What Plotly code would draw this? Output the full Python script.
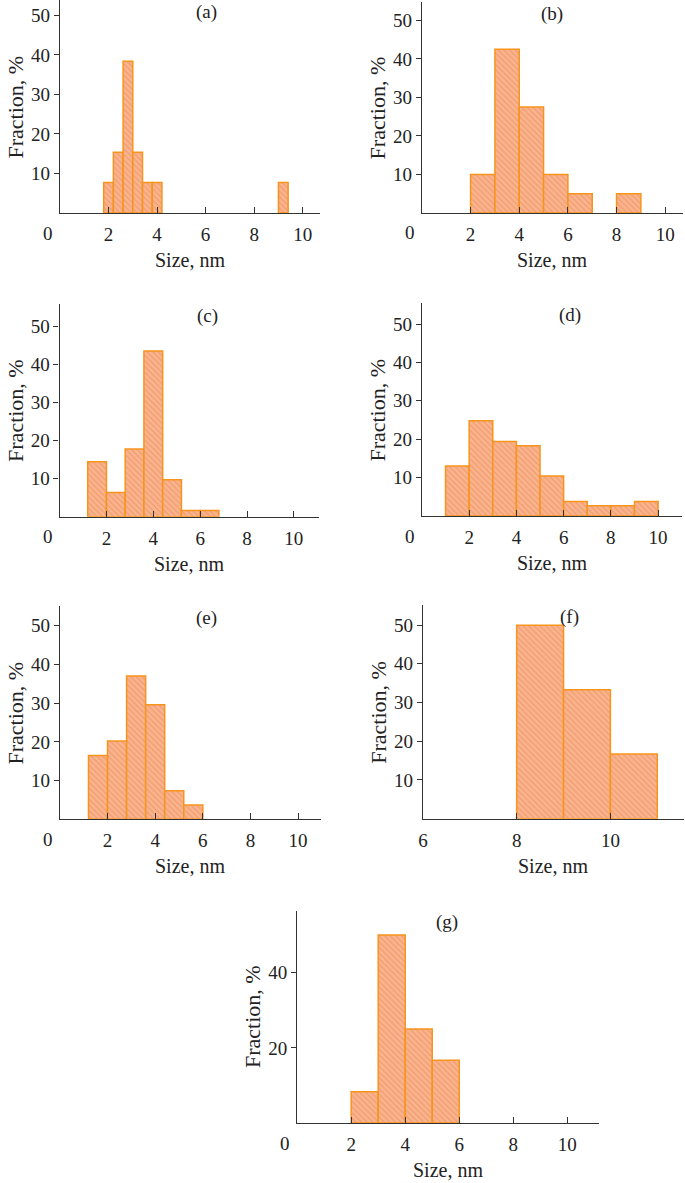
import plotly.graph_objects as go

# bin left edges (nm), bin widths and fractions (%) for each panel
a_left = [1.8, 2.2, 2.6, 3.0, 3.4, 3.8, 9.0]
a_width = 0.4
a_frac = [7.7, 15.4, 38.4, 15.4, 7.7, 7.7, 7.7]

b_left = [2, 3, 4, 5, 6, 8]
b_width = 1.0
b_frac = [10.0, 42.5, 27.5, 10.0, 5.0, 5.0]

c_left = [1.2, 2.0, 2.8, 3.6, 4.4, 5.2, 6.0]
c_width = 0.8
c_frac = [14.5, 6.4, 17.8, 43.6, 9.7, 1.6, 1.6]

d_left = [1, 2, 3, 4, 5, 6, 7, 8, 9]
d_width = 1.0
d_frac = [13.0, 24.8, 19.4, 18.3, 10.4, 3.8, 2.7, 2.7, 3.8]

e_left = [1.2, 2.0, 2.8, 3.6, 4.4, 5.2]
e_width = 0.8
e_frac = [16.5, 20.2, 37.0, 29.6, 7.4, 3.7]

f_left = [8, 9, 10]
f_width = 1.0
f_frac = [50.0, 33.3, 16.7]

g_left = [2, 3, 4, 5]
g_width = 1.0
g_frac = [8.3, 50.0, 25.0, 16.7]

x_ticks = [2, 4, 6, 8, 10]
f_x_ticks = [6, 8, 10]
y_ticks = [10, 20, 30, 40, 50]
g_y_ticks = [20, 40]

W, H = 685, 1183
FONT = "Liberation Serif"
TICK_SIZE = 19

# name, data, pixel box (left, right, top, bottom), x range, y range, label x pos
panels = [
    ("(a)", a_left, a_width, a_frac, (55.4, 317, 0, 213), [0, 10.7], [0, 53.9], 0.564, x_ticks, y_ticks, "0"),
    ("(b)", b_left, b_width, b_frac, (420, 682.7, 2, 213), [0, 10.72], [0, 54.8], 0.497, x_ticks, y_ticks, "0"),
    ("(c)", c_left, c_width, c_frac, (55, 316, 304, 516.7), [0, 11.06], [0, 56], 0.571, x_ticks, y_ticks, "0"),
    ("(d)", d_left, d_width, d_frac, (420, 681.7, 303.3, 516), [0, 11], [0, 55.4], 0.569, x_ticks, y_ticks, "0"),
    ("(e)", e_left, e_width, e_frac, (55.3, 318.3, 606, 819.3), [0, 10.96], [0, 55.1], 0.563, x_ticks, y_ticks, "0"),
    ("(f)", f_left, f_width, f_frac, (421, 684, 605, 818.7), [6, 11.57], [0, 55.2], 0.563, f_x_ticks, y_ticks, None),
    ("(g)", g_left, g_width, g_frac, (294.3, 598.3, 910.7, 1123), [0, 11.17], [0, 56.5], 0.496, x_ticks, g_y_ticks, "0"),
]

fig = go.Figure()
layout = {}
annotations = []

for i, (name, left, width, frac, box, xr, yr, lx, xt, yt, zero) in enumerate(panels):
    n = "" if i == 0 else str(i + 1)
    xa, ya = "x" + n, "y" + n
    l, r, t, b = box

    fig.add_trace(go.Bar(
        x=left, y=frac, width=width, offset=0,
        xaxis=xa, yaxis=ya, showlegend=False,
        marker=dict(
            color="#F9B18F",
            line=dict(color="#F7941D", width=1.5),
            pattern=dict(shape="\\", fgcolor="#EE8848", bgcolor="#F9B491",
                         size=4, solidity=0.35),
        ),
    ))

    layout["xaxis" + n] = dict(
        domain=[l / W, r / W], anchor=ya, range=xr,
        tickvals=xt, ticks="inside", ticklen=6, tickwidth=1.3, tickcolor="#333",
        showline=True, linecolor="#333", linewidth=1.3, showgrid=False, zeroline=False,
        tickfont=dict(family=FONT, size=TICK_SIZE, color="#222"), ticklabelstandoff=4,
    )
    layout["yaxis" + n] = dict(
        domain=[1 - b / H, 1 - t / H], anchor=xa, range=yr,
        tickvals=yt, ticks="outside", ticklen=5, tickwidth=1.3, tickcolor="#333",
        showline=True, linecolor="#333", linewidth=1.3, showgrid=False, zeroline=False,
        tickfont=dict(family=FONT, size=TICK_SIZE, color="#222"),
    )

    if zero is not None:
        annotations.append(dict(
            text=zero, xref=xa, yref=ya, x=xr[0], y=0, xshift=-12, yshift=-20,
            showarrow=False, yanchor="middle", xanchor="center",
            font=dict(family=FONT, size=TICK_SIZE, color="#222"),
        ))
    annotations.append(dict(
        text="Size, nm", xref=xa + " domain", yref=ya + " domain", x=0.5, y=0,
        yshift=-47, showarrow=False, yanchor="middle",
        font=dict(family=FONT, size=20, color="#222"),
    ))
    annotations.append(dict(
        text="Fraction, %", xref=xa + " domain", yref=ya + " domain", x=0, y=0.5,
        xshift=-44, textangle=-90, showarrow=False, xanchor="center",
        font=dict(family=FONT, size=22, color="#222"),
    ))
    annotations.append(dict(
        text=name, xref=xa + " domain", yref=ya + " domain", x=lx, y=0.945,
        showarrow=False, yanchor="middle",
        font=dict(family=FONT, size=TICK_SIZE, color="#222"),
    ))

fig.update_layout(
    width=W, height=H,
    margin=dict(l=0, r=0, t=0, b=0),
    plot_bgcolor="white", paper_bgcolor="white",
    annotations=annotations,
    **layout,
)

# drop the default page margin so the figure sits at the window's corner
fig.write_html("out.html", config={"displayModeBar": False},
               post_script="document.body.style.margin='0px';")
